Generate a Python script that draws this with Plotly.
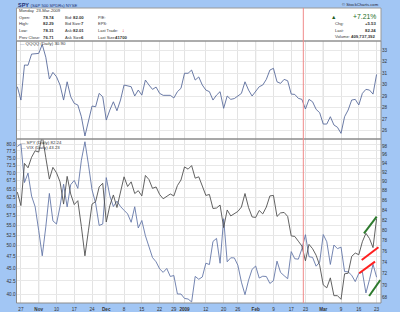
import math
import plotly.graph_objects as go

W, H = 400, 312
def px(x): return x / W
def py(y): return 1 - y / H

# ---------------- data ----------------
# trading-day number: -1 = 24-Oct-2008 ... 100 = 23-Mar-2009
day_idx = list(range(-1, 101))

qqqq = [29.83, 28.67, 31.72, 31.70, 32.67, 32.70, 32.73, 33.50, 32.40, 30.50,
        31.08, 30.70, 29.98, 28.67, 30.26, 28.96, 28.38, 28.24, 27.22, 25.54,
        26.78, 28.15, 28.09, 29.25, 28.96, 26.93, 27.80, 28.52, 27.74, 28.67,
        29.98, 29.90, 29.83, 29.02, 29.54, 29.10, 30.41, 29.98, 29.60, 29.80,
        29.25, 29.08, 29.05, 29.08, 28.85, 29.40, 29.69, 31.00, 31.00, 31.28,
        30.41, 30.68, 29.98, 29.54, 29.40, 28.67, 29.10, 29.40, 27.95, 29.02,
        28.73, 28.80, 29.02, 29.25, 30.26, 29.54, 29.02, 29.40, 29.83, 29.98,
        30.47, 31.28, 31.43, 30.26, 30.12, 30.47, 30.35, 29.19, 29.16, 28.82,
        28.73, 27.89, 28.73, 28.52, 27.86, 27.57, 26.58, 26.58, 27.22, 26.50,
        26.30, 25.77, 27.22, 27.80, 28.67, 28.73, 28.24, 29.25, 29.60, 29.54,
        29.19, 30.90]

spy = [87.7, 84.9, 94.0, 93.0, 95.4, 96.9, 96.6, 100.6, 95.3, 90.5,
       93.1, 91.9, 89.9, 85.2, 91.1, 87.3, 85.1, 85.9, 80.7, 75.2,
       80.0, 85.2, 85.7, 88.8, 89.6, 81.6, 84.9, 87.1, 84.5, 87.6,
       91.0, 88.9, 89.9, 87.4, 88.0, 86.9, 91.3, 90.4, 88.5, 88.8,
       87.2, 86.3, 86.8, 87.3, 86.9, 89.1, 90.3, 93.2, 92.7, 93.5,
       90.7, 91.0, 89.0, 87.0, 87.2, 84.3, 84.4, 85.0, 80.5, 84.0,
       82.8, 83.2, 83.7, 84.6, 87.4, 84.5, 82.6, 82.5, 83.9, 83.2,
       84.6, 86.9, 87.0, 82.7, 83.4, 83.5, 82.7, 78.9, 78.8, 77.9,
       77.0, 74.3, 77.3, 76.5, 75.3, 73.5, 70.1, 69.6, 71.3, 68.3,
       68.3, 67.7, 72.0, 72.1, 75.1, 75.7, 75.4, 77.8, 79.4, 78.4,
       76.7, 82.24]

vix = [79.13, 80.06, 66.96, 69.96, 62.90, 59.89, 53.68, 47.73, 54.56, 63.68,
       56.10, 55.28, 59.98, 66.46, 59.83, 66.31, 67.64, 65.18, 74.26, 80.86,
       72.67, 64.70, 60.90, 54.92, 55.28, 68.51, 62.98, 59.93, 61.44, 59.93,
       58.91, 57.94, 55.73, 59.87, 54.28, 56.18, 52.37, 49.84, 47.34, 46.42,
       44.93, 44.21, 45.02, 43.38, 43.57, 40.00, 40.00, 39.19, 39.08, 38.56,
       43.39, 42.82, 43.27, 46.12, 45.84, 51.00, 51.72, 46.11, 56.65, 46.42,
       47.29, 47.27, 45.69, 42.25, 39.88, 42.63, 44.84, 45.52, 43.06, 43.43,
       43.37, 42.00, 42.54, 46.56, 44.19, 43.54, 42.93, 48.66, 47.08, 46.99,
       49.30, 52.62, 47.53, 47.38, 45.49, 46.35, 52.65, 50.93, 45.86, 50.17,
       49.33, 49.68, 44.37, 44.32, 43.61, 42.36, 44.01, 44.31, 40.18, 42.73,
       45.89, 43.23]

tick_idx = [0, 5, 10, 15, 20, 24, 29, 34, 39, 43, 46, 52, 57, 61, 66, 71, 76, 80, 85, 90, 95, 100]
tick_text = ["27", "<b>Nov</b>", "10", "17", "24", "<b>Dec</b>", "8", "15", "22", "29", "<b>2009</b>",
             "12", "20", "26", "<b>Feb</b>", "9", "17", "23", "<b>Mar</b>", "9", "16", "23"]
month_idx = [5, 24, 46, 66, 85]
marker_day = 79.4

vix_ticks = [40.0, 42.5, 45.0, 47.5, 50.0, 52.5, 55.0, 57.5, 60.0, 62.5, 65.0, 67.5, 70.0, 72.5, 75.0, 77.5, 80.0]
spy_ticks = [68, 70, 72, 74, 76, 78, 80, 82, 84, 86, 88, 90, 92, 94, 96, 98]
qqqq_ticks = [26, 27, 28, 29, 30, 31, 32, 33]

# hand-drawn trend lines (day, SPY price)
green_hi = ([96.46, 100.03], [79.4, 82.65])
red_hi = ([95.82, 100.53], [74.45, 76.77])
red_lo = ([95.10, 99.55], [72.10, 74.14])
green_lo = ([97.90, 101.04], [68.25, 70.94])

# ---------------- figure ----------------
BLUE_BG = "#a2c6f4"
FONT = "Liberation Sans, Arial, sans-serif"
C_QQQQ = "#5a6c9c"
C_VIX = "#6477a8"
C_SPY = "#505050"
fig = go.Figure()

fig.add_trace(go.Scatter(x=day_idx, y=qqqq, mode="lines", line=dict(color=C_QQQQ, width=0.9),
                         xaxis="x2", yaxis="y2", hoverinfo="skip"))
fig.add_trace(go.Scatter(x=day_idx, y=vix, mode="lines", line=dict(color=C_VIX, width=0.9),
                         xaxis="x", yaxis="y", hoverinfo="skip"))
fig.add_trace(go.Scatter(x=day_idx, y=spy, mode="lines", line=dict(color=C_SPY, width=0.9),
                         xaxis="x", yaxis="y3", hoverinfo="skip"))
for (xs, ys), col in [(green_hi, "#2d7a2d"), (red_hi, "#ff1f1f"), (red_lo, "#ff1f1f"), (green_lo, "#2d7a2d")]:
    fig.add_trace(go.Scatter(x=xs, y=ys, mode="lines", line=dict(color=col, width=2),
                             xaxis="x", yaxis="y3", hoverinfo="skip", cliponaxis=False))

xdom = [px(16.5), px(381)]
xr = [-1.24, 101.24]
bot_dom = [1 - 303 / H, 1 - 139 / H]
top_dom = [1 - 139 / H, 1 - 41 / H]

fig.update_layout(
    width=W, height=H, margin=dict(l=0, r=0, t=0, b=0),
    paper_bgcolor=BLUE_BG, plot_bgcolor="white", showlegend=False,
    font=dict(family=FONT, size=5, color="#333"),
    xaxis=dict(domain=xdom, range=xr, anchor="y", tickvals=tick_idx, ticktext=tick_text,
               showgrid=True, gridcolor="#e3e3e3", gridwidth=1, zeroline=False, showline=False,
               ticks="", tickfont=dict(size=4.6, color="#333"), ticklabelstandoff=2),
    xaxis2=dict(domain=xdom, range=xr, anchor="y2", matches="x", tickvals=tick_idx,
                showticklabels=False, showgrid=True, gridcolor="#e3e3e3", zeroline=False, ticks=""),
    yaxis=dict(domain=bot_dom, type="log", range=[math.log10(38.37), math.log10(81.9)],
               tickvals=vix_ticks, ticktext=[f"{v:.1f}" for v in vix_ticks], side="left",
               showgrid=True, gridcolor="#e8e8e8", zeroline=False, ticks="",
               tickfont=dict(size=4.6, color="#333"), anchor="x"),
    yaxis3=dict(overlaying="y", side="right", type="log", range=[math.log10(67.1), math.log10(99.7)],
                tickvals=spy_ticks, ticktext=[str(v) for v in spy_ticks], showgrid=False,
                zeroline=False, ticks="", tickfont=dict(size=4.6, color="#333"), anchor="x"),
    yaxis2=dict(domain=top_dom, range=[25.28, 33.81], side="right", anchor="x2",
                tickvals=qqqq_ticks, showgrid=True, gridcolor="#e8e8e8", zeroline=False,
                ticks="", tickfont=dict(size=4.6, color="#333")),
)

shapes = []
for m in month_idx:
    shapes.append(dict(type="line", xref="x", yref="paper", x0=m, x1=m, y0=py(303), y1=py(41),
                       line=dict(color="#c4c4c4", width=1), layer="below"))
shapes.append(dict(type="rect", xref="paper", yref="paper", x0=xdom[0], x1=xdom[1], y0=py(41), y1=py(8),
                   fillcolor="white", line=dict(color="#9a9a9a", width=1)))
shapes.append(dict(type="rect", xref="paper", yref="paper", x0=xdom[0], x1=xdom[1], y0=top_dom[0], y1=top_dom[1],
                   line=dict(color="#8c8c8c", width=1)))
shapes.append(dict(type="rect", xref="paper", yref="paper", x0=xdom[0], x1=xdom[1], y0=bot_dom[0], y1=bot_dom[1],
                   line=dict(color="#8c8c8c", width=1)))
shapes.append(dict(type="line", xref="x", yref="paper", x0=marker_day, x1=marker_day, y0=py(303), y1=py(8),
                   line=dict(color="#f08a8a", width=1)))
fig.update_layout(shapes=shapes)

ann = []
def T(x, y, text, anchor="left", size=4.2, color="#333", bold=False):
    if bold:
        text = f"<b>{text}</b>"
    ann.append(dict(x=px(x), y=py(y), xref="paper", yref="paper", text=text, showarrow=False,
                    xanchor=anchor, yanchor="middle", font=dict(size=size, color=color, family=FONT)))

T(16, 4.8, "<b>SPY</b> <span style='font-size:4.2px'>(S&P 500 SPDRs) NYSE</span>", size=5.5, color="#1c2f73")
T(381, 4.8, "© StockCharts.com", anchor="right", size=4.2, color="#223")
T(16.5, 11, "Monday  23-Mar-2009", size=4.2)
rows = [17.3, 24, 30.3, 37]
for y, lab, val in zip(rows, ["Open:", "High:", "Low:", "Prev Close:"], ["78.74", "82.29", "78.31", "76.71"]):
    T(17, y, lab, size=4.1)
    T(55.5, y, val, anchor="right", size=4.3, bold=True)
for y, lab, val in zip(rows, ["Bid:", "Bid Size:", "Ask:", "Ask Size:"], ["82.00", "7", "82.01", "6"]):
    T(63, y, lab, size=4.1)
    T(86, y, val, anchor="right", size=4.3, bold=True)
for y, lab in zip(rows, ["P/E:", "EPS:", "Last Trade:", "Last Size:"]):
    T(96, y, lab, size=4.0)
T(123.5, 30.3, "↓", anchor="center", size=5, color="#e02020", bold=True)
T(130, 37, "41700", anchor="right", size=4.3, bold=True)
T(333.5, 16.5, "▲", anchor="center", size=5.5, color="#1e5e1e")
T(377.5, 16.5, "+7.21%", anchor="right", size=6.8, color="#1e6e1e")
for y, lab, val in zip([24, 30.3, 36.7], ["Chg:", "Last:", "Volume:"], ["+5.53", "82.24", "409,737,392"]):
    T(332.5, y, lab, size=4.1)
    T(377.5, y, val, anchor="right", size=4.3, bold=True)

T(17.5, 44, f"<span style='color:{C_QQQQ}'>—</span> QQQQ (Daily) 30.90", size=4.4)
T(18.5, 142.6, f"<span style='color:{C_SPY}'>—</span> SPY (Daily) 82.24", size=4.4)
T(18.5, 147.2, f"<span style='color:{C_VIX}'>—</span> VIX (Daily) 43.23", size=4.4)
fig.update_layout(annotations=ann)

fig.write_html("out.html")
